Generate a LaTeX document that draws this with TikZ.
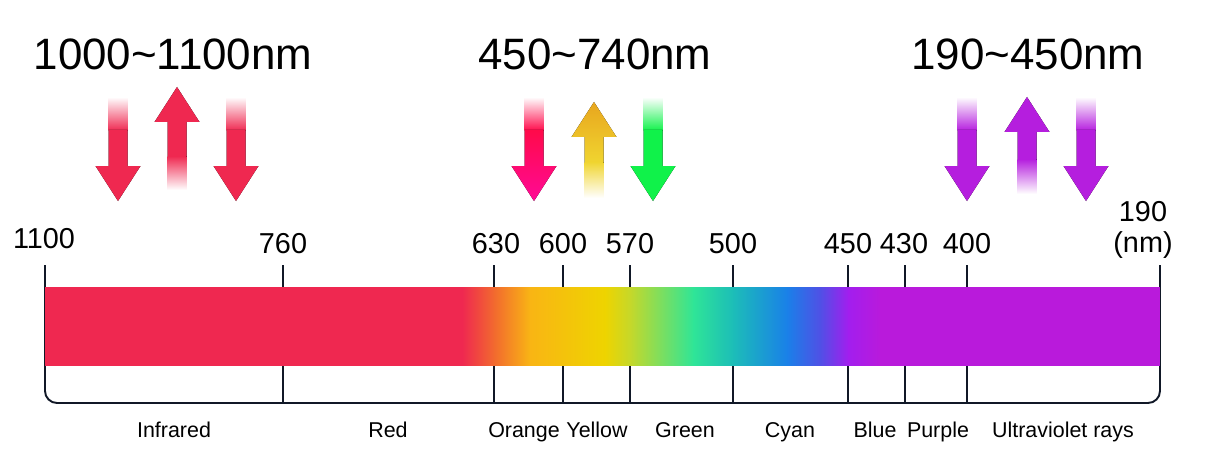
\documentclass[tikz,border=0pt]{standalone}
\usepackage{fontspec}
\setmainfont{Liberation Sans}
\usepackage{tikz}
\usetikzlibrary{calc}
\definecolor{tickline}{HTML}{111827}
\definecolor{irred}{HTML}{EF2850}
\definecolor{hotred}{HTML}{FF0A4A}
\definecolor{hotpink}{HTML}{FF0A96}
\definecolor{ylwtip}{HTML}{E8A61E}
\definecolor{ylwshaft}{HTML}{F0D530}
\definecolor{lgreen}{HTML}{10F24A}
\definecolor{uvpur}{HTML}{B51EDE}
\definecolor{sporg}{HTML}{F26A2E}
\definecolor{spamb}{HTML}{F9B514}
\definecolor{spyel}{HTML}{EED400}
\definecolor{splim}{HTML}{C5D82A}
\definecolor{spgrn}{HTML}{2FE597}
\definecolor{spteal}{HTML}{1CBDB8}
\definecolor{spblu}{HTML}{1A80E8}
\definecolor{spind}{HTML}{5050E6}
\definecolor{spvio}{HTML}{A21EEE}
\definecolor{sppur}{HTML}{B91ADB}
\tikzset{
  ruler/.style  ={draw=tickline,line width=1.1pt},
  title/.style  ={font=\fontsize{25}{30}\selectfont,anchor=base,inner sep=0pt},
  numlab/.style ={font=\fontsize{16.4}{17.6}\selectfont,anchor=base,inner sep=0pt},
  bandlab/.style={font=\fontsize{12.2}{14}\selectfont,anchor=base,inner sep=0pt}
}
\begin{document}
\begin{tikzpicture}[x=0.02cm,y=-0.02cm]
  \useasboundingbox (0,0) rectangle (1207,473);
  % range titles
  \node[title] (ttl-ir)  at (173,70)  {1000\textasciitilde1100nm};
  \node[title] (ttl-vis) at (595,70)  {450\textasciitilde740nm};
  \node[title] (ttl-uv)  at (1028,70) {190\textasciitilde450nm};
  % down arrows (faded tail)
  \foreach \x/\ca/\cb in {118/irred/irred,236/irred/irred,534/hotred/hotpink,
                          653/lgreen/lgreen,967/uvpur/uvpur,1086/uvpur/uvpur}{
    \fill[top color=white,bottom color=\ca] (\x-9.5,97) rectangle (\x+9.5,131);
    \fill[top color=\ca,bottom color=\cb] (\x-9.5,130) -- (\x-9.5,166) -- (\x-22.5,166)
      -- (\x,201) -- (\x+22.5,166) -- (\x+9.5,166) -- (\x+9.5,130) -- cycle;
  }
  % up arrows (faded tail)
  \foreach \x/\t/\m/\b/\ca/\cb in {177/87/157/190/irred/irred,594/102/163/198/ylwtip/ylwshaft,
                                   1027/97/160/194/uvpur/uvpur}{
    \fill[top color=\ca,bottom color=\cb] (\x,\t) -- (\x+22.5,\t+35) -- (\x+9.5,\t+35)
      -- (\x+9.5,\m) -- (\x-9.5,\m) -- (\x-9.5,\t+35) -- (\x-22.5,\t+35) -- cycle;
    \fill[top color=\cb,bottom color=white] (\x-9.5,\m-1) rectangle (\x+9.5,\b);
  }
  % scale ticks
  \foreach \x/\n in {45/1100,283/760,494/630,563/600,630/570,733/500,
                     848/450,905/430,967/400,1160/190}{
    \coordinate (t\n) at (\x,265);
    \coordinate (b\n) at (\x,403);
  }
  \draw[ruler,rounded corners=2.4mm] (t1100) |- (b190) -- (t190);
  \foreach \n in {760,630,600,570,500,450,430,400}
    \draw[ruler] (t\n) -- (b\n);
  % spectrum bar
  \begin{scope}
    \clip (45,287) rectangle (1160,365);
    \fill[irred] (45,280) rectangle (463,372);
    \foreach \xa/\ca/\xb/\cb in {462/irred/494/sporg,494/sporg/530/spamb,530/spamb/605/spyel,
                                 605/spyel/630/splim,630/splim/693/spgrn,693/spgrn/733/spteal,
                                 733/spteal/787/spblu,787/spblu/820/spind,820/spind/848/spvio,
                                 848/spvio/880/sppur}
      \fill[left color=\ca,right color=\cb] (\xa,280) rectangle (\xb+0.6,372);
    \fill[sppur] (880,280) rectangle (1160,372);
  \end{scope}
  % wavelength labels
  \node[numlab] (l1100) at (44,248) {1100};
  \foreach \x/\n in {283/760,496/630,563/600,630/570,733/500,848/450,904/430,967/400}
    \node[numlab] (l\n) at (\x,253) {\n};
  \node[numlab,align=center,anchor=south] (l190) at (1143,259) {190\\(nm)};
  % band names
  \foreach \x/\txt [count=\i] in {174/Infrared,388/Red,524/Orange,597/Yellow,685/Green,
                                  790/Cyan,875/Blue,938/Purple,1063/Ultraviolet rays}
    \node[bandlab] (band\i) at (\x,437) {\txt};
\end{tikzpicture}
\end{document}
